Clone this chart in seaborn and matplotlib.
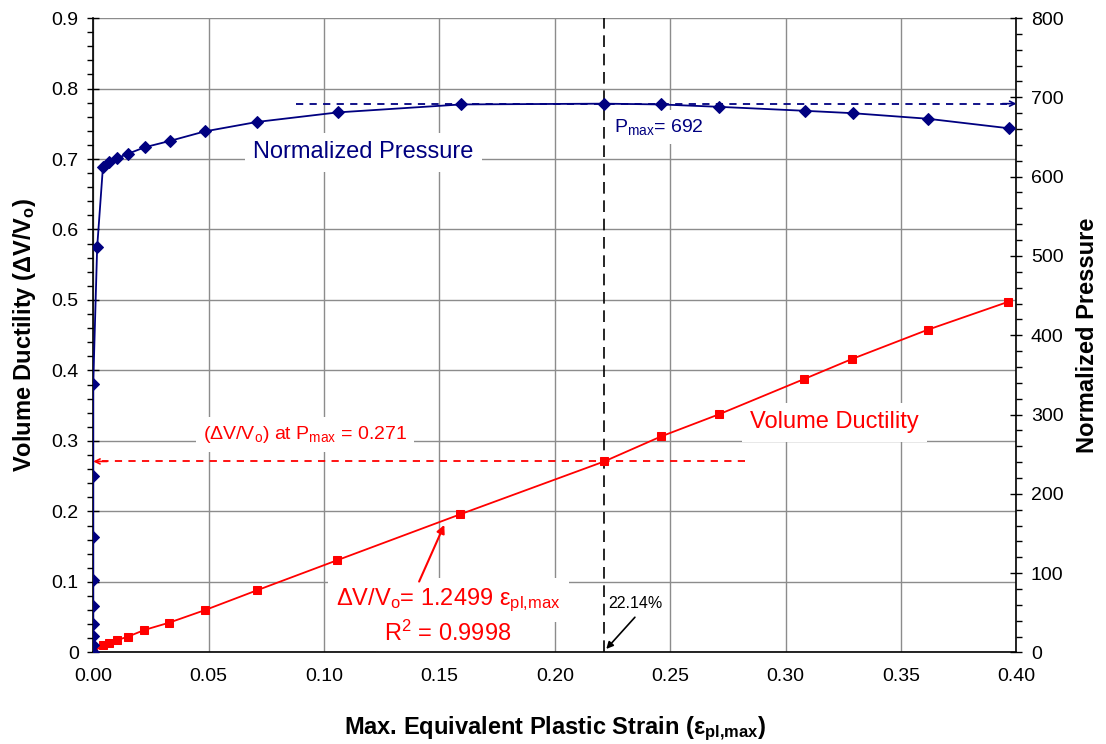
import matplotlib
matplotlib.use("Agg")
import matplotlib.pyplot as plt
import seaborn as sns
import pandas as pd
from matplotlib.ticker import FixedLocator, FixedFormatter, MultipleLocator

# ---- data -------------------------------------------------------------
# Normalized pressure vs. max. equivalent plastic strain
strain_p = [0.0, 0.0, 0.0, 0.0, 0.0, 0.0, 0.0, 0.0, 0.0, 0.0017,
            0.0042, 0.0070, 0.0102, 0.0152, 0.0223, 0.0332, 0.0483, 0.0711,
            0.1060, 0.1593, 0.2214, 0.2460, 0.2712, 0.3083, 0.3290, 0.3615,
            0.3966]
pressure = [1, 9, 21, 36, 59, 92, 145, 223, 339, 511,
            612, 618, 623, 629, 637, 645, 657, 669,
            681, 691, 692, 691, 688, 683, 680, 673,
            661]

# Volume ductility vs. max. equivalent plastic strain
strain_v = [0.0, 0.0041, 0.0069, 0.0101, 0.0150, 0.0222, 0.0329, 0.0483,
            0.0711, 0.1058, 0.1590, 0.2214, 0.2460, 0.2711, 0.3081, 0.3289,
            0.3615, 0.3965]
ductility = [0.001, 0.0102, 0.0139, 0.0173, 0.0224, 0.0320, 0.0423, 0.0600,
             0.0884, 0.1310, 0.1960, 0.2710, 0.3064, 0.3378, 0.3880, 0.4165,
             0.4577, 0.4975]

strain_at_pmax = 0.2214
p_max = 692
ductility_at_pmax = 0.271
fit_slope = 1.2499
fit_r2 = 0.9998

x_ticks = [0.00, 0.05, 0.10, 0.15, 0.20, 0.25, 0.30, 0.35, 0.40]
x_tick_labels = ["0.00", "0.05", "0.10", "0.15", "0.20", "0.25", "0.30", "0.35", "0.40"]
left_ticks = [0.0, 0.1, 0.2, 0.3, 0.4, 0.5, 0.6, 0.7, 0.8, 0.9]
left_tick_labels = ["0", "0.1", "0.2", "0.3", "0.4", "0.5", "0.6", "0.7", "0.8", "0.9"]
right_ticks = [0, 100, 200, 300, 400, 500, 600, 700, 800]
right_tick_labels = ["0", "100", "200", "300", "400", "500", "600", "700", "800"]

# ---- style ------------------------------------------------------------
sns.set_theme(style="white")
plt.rcParams["font.family"] = ["Liberation Sans", "DejaVu Sans"]
plt.rcParams["mathtext.fontset"] = "custom"
plt.rcParams["mathtext.rm"] = "Liberation Sans"
plt.rcParams["mathtext.it"] = "Liberation Sans:italic"
plt.rcParams["mathtext.bf"] = "Liberation Sans:bold"
plt.rcParams["text.color"] = "black"
plt.rcParams["axes.labelcolor"] = "black"
plt.rcParams["xtick.color"] = "black"
plt.rcParams["ytick.color"] = "black"

NAVY = "#000080"
RED = "#ff0000"

df_p = pd.DataFrame({"strain": strain_p, "pressure": pressure})
df_v = pd.DataFrame({"strain": strain_v, "ductility": ductility})

fig = plt.figure(figsize=(11.06, 7.44), dpi=100)
ax = fig.add_axes([0.0843, 0.123, 0.8347, 0.8528])
ax2 = ax.twinx()

# volume ductility (left axis)
sns.lineplot(data=df_v, x="strain", y="ductility", ax=ax, color=RED,
             marker="s", markersize=6, markeredgecolor=RED, linewidth=1.3,
             sort=False, estimator=None, zorder=4)

# normalized pressure (right axis)
sns.lineplot(data=df_p, x="strain", y="pressure", ax=ax2, color=NAVY,
             marker="D", markersize=6.3, markeredgecolor=NAVY, linewidth=1.3,
             sort=False, estimator=None, zorder=4)

# ---- axes -------------------------------------------------------------
ax.set_xlim(0, 0.40)
ax.set_ylim(0, 0.9)
ax2.set_ylim(0, 800)

ax.xaxis.set_major_locator(FixedLocator(x_ticks))
ax.xaxis.set_major_formatter(FixedFormatter(x_tick_labels))
ax.xaxis.set_minor_locator(MultipleLocator(0.01))
ax.yaxis.set_major_locator(FixedLocator(left_ticks))
ax.yaxis.set_major_formatter(FixedFormatter(left_tick_labels))
ax.yaxis.set_minor_locator(MultipleLocator(0.02))
ax2.yaxis.set_major_locator(FixedLocator(right_ticks))
ax2.yaxis.set_major_formatter(FixedFormatter(right_tick_labels))
ax2.yaxis.set_minor_locator(MultipleLocator(20))

for a in (ax, ax2):
    a.tick_params(which="major", direction="inout", length=9, width=1,
                  labelsize=14, colors="black")
    a.tick_params(which="minor", direction="out", length=4, width=1,
                  colors="black")
ax.tick_params(axis="x", which="major", pad=7)
ax.tick_params(axis="y", which="major", pad=6)
ax2.tick_params(axis="y", which="major", pad=6)

ax.grid(True, which="major", color="#8c8c8c", linewidth=1)
ax.set_axisbelow(True)
ax2.grid(False)

for name, sp in ax.spines.items():
    sp.set_color("black")
    sp.set_linewidth(1.2)
    sp.set_visible(name in ("left", "bottom"))
for name, sp in ax2.spines.items():
    sp.set_color("black")
    sp.set_linewidth(1.2)
    sp.set_visible(name == "right")

ax.set_xlabel("Max. Equivalent Plastic Strain (ε$_\\mathbf{pl{,}max}$)",
              fontsize=17, fontweight="bold", labelpad=21)
ax.set_ylabel("Volume Ductility (ΔV/V$_\\mathbf{o}$)",
              fontsize=17, fontweight="bold", labelpad=10)
ax2.set_ylabel("Normalized Pressure", fontsize=17, fontweight="bold",
               labelpad=9)

# ---- reference lines ----------------------------------------------------
ax.axvline(strain_at_pmax, color="black", linestyle=(0, (7, 4)),
           linewidth=1.2, zorder=3)

ax.plot([0.2826, 0.004], [ductility_at_pmax, ductility_at_pmax], color=RED,
        linestyle=(0, (4, 3.5)), linewidth=1.3, zorder=3)
ax.annotate("", xy=(0.0, ductility_at_pmax),
            xytext=(0.006, ductility_at_pmax),
            arrowprops=dict(arrowstyle="->", color=RED, lw=1.2,
                            mutation_scale=9, shrinkA=0, shrinkB=0),
            zorder=3, annotation_clip=False)

ax2.plot([0.088, 0.396], [p_max, p_max], color=NAVY,
         linestyle=(0, (4, 3.5)), linewidth=1.3, zorder=3)
ax2.annotate("", xy=(0.40, p_max), xytext=(0.394, p_max),
             arrowprops=dict(arrowstyle="->", color=NAVY, lw=1.2,
                             mutation_scale=9, shrinkA=0, shrinkB=0),
             zorder=3, annotation_clip=False)

# ---- labels -------------------------------------------------------------
box = dict(facecolor="white", edgecolor="none", boxstyle="square,pad=0.35")

ax.text(0.1171, 0.7095, "Normalized Pressure", color=NAVY, fontsize=17,
        ha="center", va="center", bbox=box, zorder=1.5)
ax.text(0.3212, 0.3264, "Volume Ductility", color=RED, fontsize=17,
        ha="center", va="center", bbox=box, zorder=1.5)
ax.text(0.0918, 0.309,
        "(ΔV/V$_\\mathregular{o}$) at P$_\\mathregular{max}$ = "
        + f"{ductility_at_pmax:.3f}",
        color=RED, fontsize=14, ha="center", va="center", bbox=box,
        zorder=1.5)
ax.text(0.2256, 0.745, "P$_\\mathregular{max}$= " + f"{p_max}",
        color=NAVY, fontsize=14, ha="left", va="center", bbox=box,
        zorder=1.5)
ax.text(0.1539, 0.0746,
        "ΔV/V$_\\mathregular{o}$= " + f"{fit_slope:.4f}"
        + " ε$_\\mathregular{pl{,}max}$",
        color=RED, fontsize=17, ha="center", va="center", bbox=box,
        zorder=1.5)
ax.text(0.1536, 0.0273, "R$^\\mathregular{2}$ = " + f"{fit_r2:.4f}",
        color=RED, fontsize=17, ha="center", va="center", bbox=box,
        zorder=1.5)
ax.text(0.2232, 0.0699, f"{strain_at_pmax * 100:.2f}%", color="black",
        fontsize=11.5, ha="left", va="center", bbox=box, zorder=1.5)

# arrows pointing at the fit line and at the strain at peak pressure
ax.annotate("", xy=(0.1521, 0.181), xytext=(0.1412, 0.1006),
            arrowprops=dict(arrowstyle="-|>", color=RED, lw=1.5,
                            mutation_scale=12, shrinkA=0, shrinkB=0),
            zorder=5)
ax.annotate("", xy=(0.2223, 0.005), xytext=(0.2347, 0.05),
            arrowprops=dict(arrowstyle="-|>", color="black", lw=1.2,
                            mutation_scale=10, shrinkA=0, shrinkB=0),
            zorder=5)

fig.savefig("out.png", dpi=100)
